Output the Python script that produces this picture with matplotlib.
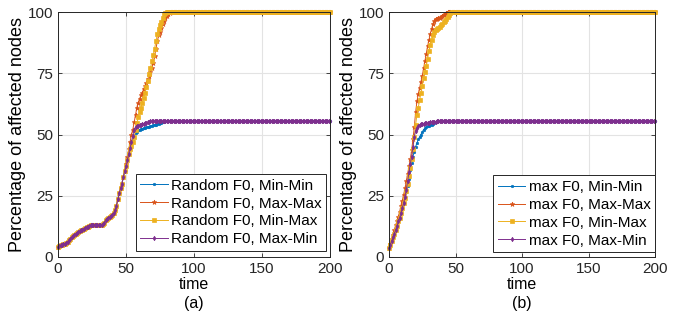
import matplotlib
matplotlib.use("Agg")
import matplotlib.pyplot as plt

plt.rcParams['font.family'] = ['Liberation Sans', 'DejaVu Sans']

N = 201
time = list(range(N))

# (a) Random F0 -- shared start t=0..49
rand_start = [4.0, 4.4, 4.8, 5.0, 5.2, 5.5, 5.8, 6.2, 6.8, 7.3,
              8.0, 8.6, 9.0, 9.4, 9.8, 10.2, 10.6, 11.0, 11.2, 11.6,
              12.0, 12.2, 12.4, 12.6, 13.0, 13.2, 13.2, 13.2, 13.2, 13.2,
              13.2, 13.2, 13.2, 13.4, 14.0, 15.0, 15.6, 16.0, 16.2, 16.6,
              17.2, 18.0, 19.2, 21.0, 23.5, 26.0, 28.0, 30.0, 32.5, 35.0]
rand_minmin = [37.0, 39.5, 42.0, 44.0, 46.0, 47.5, 49.0, 50.5, 51.2, 51.8,
               52.0, 52.2, 52.4, 52.6, 52.8, 53.0, 53.0, 53.2, 53.4, 53.6,
               53.8, 54.0, 54.0, 54.2, 54.4, 54.6, 54.8, 55.0, 55.2, 55.4, 55.5]
rand_maxmax = [38.0, 41.0, 44.0, 47.0, 50.0, 52.0, 55.0, 58.0, 61.0, 63.0,
               64.5, 66.0, 67.0, 68.5, 70.0, 71.0, 72.5, 74.0, 75.5, 77.0,
               79.0, 82.0, 85.0, 88.0, 90.5, 92.0, 93.5, 95.0, 96.5, 97.5,
               98.5, 99.2, 99.6, 100.0]
rand_minmax = [37.0, 39.5, 42.0, 44.0, 45.5, 47.0, 49.0, 52.0, 54.5, 57.0,
               59.0, 61.0, 63.0, 65.0, 67.0, 69.5, 72.0, 74.5, 77.0, 80.0,
               82.5, 85.0, 88.0, 91.0, 93.0, 94.5, 96.0, 97.5, 99.0, 99.6, 100.0]
rand_maxmin = [37.0, 39.5, 42.0, 44.5, 47.0, 49.5, 52.0, 53.0, 53.4, 53.6,
               53.8, 54.0, 54.2, 54.4, 54.6, 54.8, 55.0, 55.2, 55.4, 55.5]

# (b) max F0
max_minmin = [3.5, 5.0, 6.5, 8.0, 9.5, 11.0, 12.5, 14.5, 16.0, 18.0,
              20.0, 22.0, 24.0, 26.5, 29.0, 32.0, 35.5, 38.5, 41.0, 43.0,
              45.0, 46.5, 48.0, 49.0, 50.0, 51.0, 52.0, 52.5, 53.0, 53.4,
              53.6, 53.8, 54.0, 54.2, 54.6, 55.0, 55.3, 55.5]
max_maxmax = [3.5, 5.5, 7.5, 9.0, 11.0, 13.0, 14.5, 16.5, 18.5, 21.0,
              23.0, 25.5, 28.0, 31.0, 34.0, 37.0, 40.0, 43.5, 48.0, 53.0,
              59.0, 63.5, 66.5, 69.0, 71.5, 74.0, 77.0, 80.0, 83.0, 86.0,
              88.5, 91.0, 93.0, 95.0, 96.5, 97.0, 97.2, 97.4, 97.6, 98.0,
              98.4, 98.8, 99.2, 99.6, 100.0]
max_minmax = [3.5, 5.0, 6.5, 8.0, 9.5, 11.0, 12.5, 14.5, 16.0, 18.0,
              20.0, 22.0, 24.0, 27.0, 30.0, 33.0, 36.5, 40.0, 44.0, 49.0,
              54.0, 58.0, 61.0, 64.0, 67.0, 70.0, 73.0, 75.5, 78.0, 81.0,
              84.0, 86.5, 88.5, 90.5, 92.0, 92.6, 93.0, 93.5, 94.0, 94.5,
              95.0, 95.8, 96.5, 97.2, 98.0, 98.8, 99.5, 100.0]
max_maxmin = [3.5, 5.0, 6.5, 8.0, 9.5, 11.0, 12.5, 14.5, 16.0, 18.0,
              20.0, 22.0, 24.5, 27.5, 31.0, 34.5, 38.0, 41.0, 45.0, 49.0,
              51.5, 52.8, 53.6, 54.0, 54.2, 54.4, 54.4, 54.5, 54.6, 54.7,
              54.8, 54.9, 55.0, 55.1, 55.2, 55.3, 55.4, 55.5]


def pad(vals):
    # hold the last read value until t = 200
    return vals + [vals[-1]] * (N - len(vals))


colors = ['#0072BD', '#D95319', '#EDB120', '#7E2F8E']
markers = ['.', '*', 's', 'd']
msizes = [3.5, 3.5, 2.2, 2.3]
schemes = ['Min-Min', 'Max-Max', 'Min-Max', 'Max-Min']

panels = [
    ('Random F0', [rand_start + rand_minmin, rand_start + rand_maxmax,
                   rand_start + rand_minmax, rand_start + rand_maxmin], '(a)',
     [58 / 681, 1 - 257 / 322, 272 / 681, 245 / 322], (0.985, 0.025)),
    ('max F0', [max_minmin, max_maxmax, max_minmax, max_maxmin], '(b)',
     [389 / 681, 1 - 257 / 322, 266 / 681, 245 / 322], (1.0, 0.02)),
]

fig = plt.figure(figsize=(6.81, 3.22), dpi=100)

for prefix, series, tag, rect, anchor in panels:
    ax = fig.add_axes(rect)
    for vals, c, m, ms, s in zip(series, colors, markers, msizes, schemes):
        ax.plot(time, pad(vals), color=c, marker=m, markersize=ms,
                linewidth=0.7, markeredgewidth=0.5,
                label=f'{prefix}, {s}', clip_on=False)
    ax.set_xlim(0, 200)
    ax.set_ylim(0, 100)
    ax.set_xticks([0, 50, 100, 150, 200])
    ax.set_yticks([0, 25, 50, 75, 100])
    ax.grid(True, color='#e3e3e3', linewidth=0.8)
    ax.set_axisbelow(True)
    ax.tick_params(direction='in', top=True, right=True, length=3,
                   labelsize=11, colors='#262626', width=0.6)
    for sp in ax.spines.values():
        sp.set_color('#262626')
        sp.set_linewidth(0.7)
    ax.set_xlabel('time', fontsize=11.5, labelpad=1)
    ax.set_ylabel('Percentage of affected nodes', fontsize=13, labelpad=1)
    ax.text(0.5, -0.19, tag, transform=ax.transAxes, ha='center',
            va='center', fontsize=11.5)
    leg = ax.legend(loc='lower right', bbox_to_anchor=anchor, fontsize=11,
                    fancybox=False, framealpha=1, edgecolor='#262626',
                    borderpad=0.3, labelspacing=0.25, handlelength=1.8,
                    handletextpad=0.2, borderaxespad=0.0)
    leg.get_frame().set_linewidth(0.7)

fig.savefig('out.png', dpi=100)
